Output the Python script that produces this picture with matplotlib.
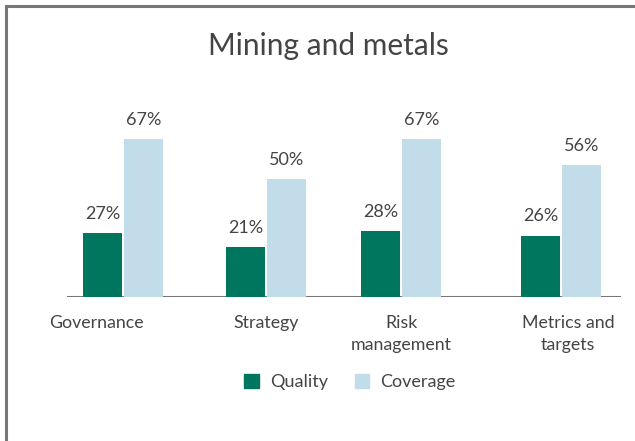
import matplotlib
matplotlib.use('Agg')
import matplotlib.pyplot as plt
from matplotlib.lines import Line2D
from matplotlib.patches import Patch

categories = ['Governance', 'Strategy', 'Risk\nmanagement', 'Metrics and\ntargets']
quality = [27, 21, 28, 26]
coverage = [67, 50, 67, 56]
series_names = ['Quality', 'Coverage']

# layout only (group centres and label spots in axis units)
group_x = [0, 0.979, 1.904, 3.0]
label_x = [-0.185, 0.979, 1.904, 3.05]

GREEN = '#00765f'
BLUE = '#c3dcea'
TEXT = '#444444'
GREY = '#777777'

plt.rcParams['font.family'] = ['Lato', 'DejaVu Sans']

fig = plt.figure(figsize=(6.35, 4.41), dpi=100)
ax = fig.add_axes([67 / 635, 144 / 441, 554 / 635, 189 / 441])

w = 0.27
off = 0.14
xq = [x - off for x in group_x]
xc = [x + off for x in group_x]
bq = ax.bar(xq, quality, width=w, color=GREEN, zorder=3)
bc = ax.bar(xc, coverage, width=w, color=BLUE, zorder=3)

for bars, vals in ((bq, quality), (bc, coverage)):
    for b, v in zip(bars, vals):
        ax.annotate(f'{v}%', (b.get_x() + b.get_width() / 2, v),
                    xytext=(0, 8), textcoords='offset points',
                    ha='center', va='bottom', fontsize=13, color=TEXT)

ax.axhline(0, color=GREY, lw=2.2, zorder=2)
ax.set_xlim(-0.384, 3.411)
ax.set_ylim(0, 80)
ax.set_xticks(label_x)
ax.set_xticklabels(categories, fontsize=12.8, color=TEXT, linespacing=1.45)
ax.tick_params(axis='x', length=0, pad=13)
ax.set_yticks([])
for s in ax.spines.values():
    s.set_visible(False)

fig.text(0.517, 0.895, 'Mining and metals', ha='center', va='center',
         fontsize=21.5, color=TEXT)

handles = [Patch(color=GREEN), Patch(color=BLUE)]
fig.legend(handles, series_names, loc='center', bbox_to_anchor=(0.551, 0.134),
           ncol=2, frameon=False, fontsize=13, handlelength=0.8,
           handleheight=0.8, handletextpad=0.6, columnspacing=1.5,
           labelcolor=TEXT)

# frame lines on left and top
fig.add_artist(Line2D([6 / 635, 6 / 635], [0, 1 - 6 / 441], color=GREY, lw=2.2))
fig.add_artist(Line2D([6 / 635, 1], [1 - 6 / 441, 1 - 6 / 441], color=GREY, lw=2.2))

fig.savefig('out.png', dpi=100)
